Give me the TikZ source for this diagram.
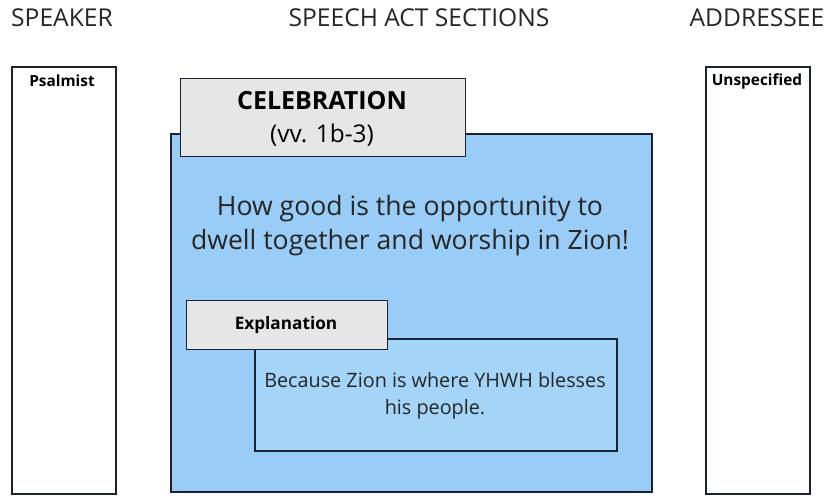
\documentclass[tikz,border=0pt]{standalone}
\usepackage{fontspec}
\setmainfont{Open Sans}
\definecolor{bordure}{HTML}{1C2233}
\definecolor{bleu}{HTML}{99CCF7}
\definecolor{bleuclair}{HTML}{A4D4F8}
\definecolor{gris}{HTML}{E6E6E6}
\begin{document}
\begin{tikzpicture}[x=1pt,y=-1pt,
    colonne/.style={draw=bordure, line width=1.6pt, fill=white, anchor=north west, inner sep=0pt},
    bloc/.style={draw=bordure, line width=1.6pt, fill=bleu, anchor=north west, inner sep=0pt},
    titre/.style={draw=bordure, line width=1.2pt, fill=gris, anchor=north west, inner sep=0pt},
    entete/.style={font=\fontsize{24.6}{28}\selectfont, text=black!85}]
    \useasboundingbox (0,0) rectangle (825,501);
    % entetes
    \node [entete] (tspeaker) at (62,18) {SPEAKER};
    \node [entete] (tsections) at (419,18) {SPEECH ACT SECTIONS};
    \node [entete] (taddressee) at (757,18) {ADDRESSEE};
    % colonnes
    \node [colonne, minimum width=104, minimum height=427] (speaker) at (11,66) {};
    \node [colonne, minimum width=104, minimum height=427] (addressee) at (705,66) {};
    \node [font=\fontsize{15.4}{18}\selectfont\bfseries] (psalmist) at (62,81) {Psalmist};
    \node [font=\fontsize{15.4}{18}\selectfont\bfseries] (unspec) at (757,81) {Unspecified};
    % bloc celebration
    \node [bloc, minimum width=481, minimum height=358] (celeb) at (170,133) {};
    \node [titre, minimum width=285, minimum height=78] (tceleb) at (180,78) {};
    \node [font=\fontsize{25}{29}\selectfont\bfseries] (nomceleb) at (322,101) {CELEBRATION};
    \node [font=\fontsize{24.4}{28}\selectfont] (versets) at (322,135) {(vv. 1b-3)};
    \node [font=\fontsize{26.6}{34}\selectfont, align=center, text=black!85] (texteceleb) at (410,226)
        {How good is the opportunity to\\dwell together and worship in Zion!};
    % bloc explication
    \node [bloc, fill=bleuclair, minimum width=362, minimum height=112] (expl) at (254,338) {};
    \node [titre, minimum width=201, minimum height=49] (texpl) at (186,300) {};
    \node [font=\fontsize{17.2}{20}\selectfont\bfseries] (nomexpl) at (286,325) {Explanation};
    \node [font=\fontsize{19.8}{27}\selectfont, align=center, text=black!85] (texteexpl) at (435,396)
        {Because Zion is where YHWH blesses\\his people.};
\end{tikzpicture}
\end{document}
